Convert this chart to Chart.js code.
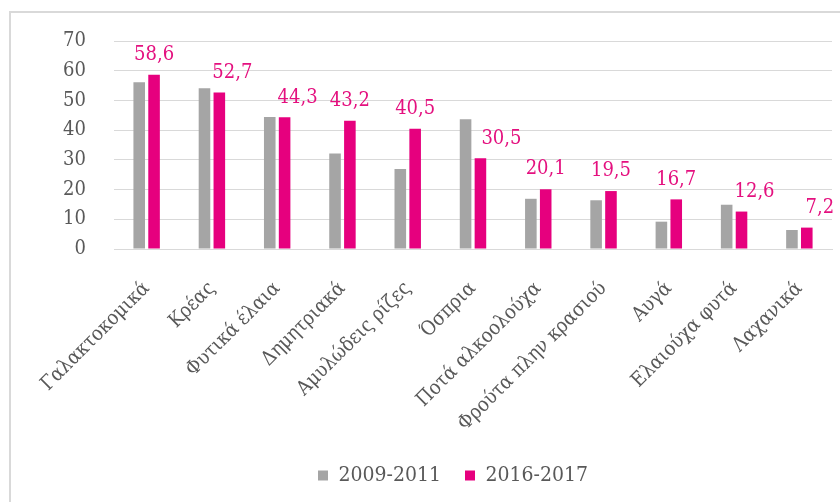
<!DOCTYPE html>
<html>
<head>
<meta charset="utf-8">
<script src="https://cdn.jsdelivr.net/npm/chart.js@4.4.1/dist/chart.umd.min.js"></script>
<style>
  html, body { margin: 0; padding: 0; background: #fff; overflow: hidden; }
  #wrap { position: relative; width: 840px; height: 502px; }
  #frame { position: absolute; left: 9px; top: 11px; width: 900px; height: 600px;
           border-left: 2px solid #d9d9d9; border-top: 2px solid #d9d9d9; pointer-events: none; }
</style>
</head>
<body>
<div id="wrap">
  <canvas id="chart" width="840" height="502"></canvas>
  <div id="frame"></div>
</div>
<script>
const categories = ['Γαλακτοκομικά', 'Κρέας', 'Φυτικά έλαια', 'Δημητριακά', 'Αμυλώδεις ρίζες', 'Όσπρια',
  'Ποτά αλκοολούχα', 'Φρούτα πλην κρασιού', 'Αυγά', 'Ελαιούχα φυτά', 'Λαχανικά'];
const values2009 = [56.1, 54.1, 44.4, 32.1, 26.9, 43.7, 16.9, 16.4, 9.2, 14.9, 6.4];
const values2016 = [58.6, 52.7, 44.3, 43.2, 40.5, 30.5, 20.1, 19.5, 16.7, 12.6, 7.2];
const yTicks = [0, 10, 20, 30, 40, 50, 60, 70];

const FONT = '"DejaVu Serif Condensed", "DejaVu Serif", serif';

// values above the 2016-2017 bars, pushed right when the grey bar is as tall
const valueLabels = {
  id: 'valueLabels',
  afterDatasetsDraw(chart) {
    const ctx = chart.ctx;
    const grey = chart.getDatasetMeta(0).data;
    const meta = chart.getDatasetMeta(1);
    ctx.save();
    ctx.fillStyle = '#e4107f';
    ctx.font = '20px ' + FONT;
    ctx.textAlign = 'center';
    ctx.textBaseline = 'bottom';
    meta.data.forEach((bar, i) => {
      let dx = 0;
      if (grey[i].y < bar.y - 12) dx = 21;
      else if (values2009[i] > values2016[i] - 1) dx = 13;
      ctx.fillText(String(values2016[i]).replace('.', ','), bar.x + dx, bar.y - 10);
    });
    ctx.restore();
  }
};

// nudge legend to the right like the original
const legendShift = {
  id: 'legendShift',
  afterLayout(chart) {
    chart.legend.left += 37;
    chart.legend.right += 37;
  }
};

new Chart(document.getElementById('chart'), {
  type: 'bar',
  data: {
    labels: categories,
    datasets: [
      {
        label: '2009-2011',
        data: values2009,
        backgroundColor: '#a5a5a5',
        barPercentage: 0.78,
        categoryPercentage: 0.455,
      },
      {
        label: '2016-2017',
        data: values2016,
        backgroundColor: '#e6007e',
        barPercentage: 0.78,
        categoryPercentage: 0.455,
      },
    ],
  },
  options: {
    responsive: false,
    animation: false,
    layout: { padding: { left: 0, right: 8, top: 41, bottom: 6 } },
    plugins: {
      tooltip: { enabled: false },
      legend: {
        position: 'bottom',
        labels: {
          color: '#595959',
          font: { family: FONT, size: 21 },
          boxWidth: 10,
          boxHeight: 10,
          padding: 24,
        },
      },
    },
    scales: {
      x: {
        grid: { display: false },
        border: { display: true, color: '#d9d9d9', width: 1 },
        ticks: {
          color: '#595959',
          font: { family: FONT, size: 20 },
          minRotation: 45,
          maxRotation: 45,
          autoSkip: false,
          padding: 20,
        },
        afterFit(scale) { scale.height = 192; },
      },
      y: {
        min: 0,
        max: 70,
        afterBuildTicks(scale) { scale.ticks = yTicks.map(v => ({ value: v })); },
        grid: { color: '#d9d9d9', drawTicks: false },
        border: { display: false },
        ticks: {
          color: '#595959',
          font: { family: FONT, size: 20 },
          padding: 28,
        },
        afterFit(scale) { scale.width = 114; },
      },
    },
  },
  plugins: [valueLabels, legendShift],
});
</script>
</body>
</html>
